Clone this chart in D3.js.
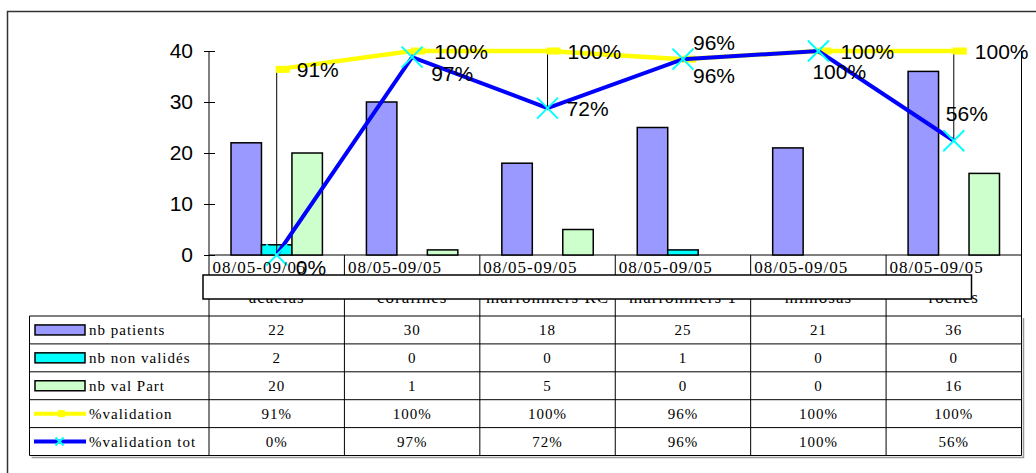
<!DOCTYPE html>
<html><head><meta charset="utf-8">
<script src="https://cdn.jsdelivr.net/npm/d3@7"></script>
<style>
html,body{margin:0;padding:0;background:#fff;}
svg{display:block;}
</style>
</head><body>
<svg id="chart" width="1036" height="473"></svg>
<script>
// ---- data ----
const categories = ["acacias","coralines","marronniers RC","marronniers 1","mimosas","roches"];
const periods = ["08/05-09/05","08/05-09/05","08/05-09/05","08/05-09/05","08/05-09/05","08/05-09/05"];
const nbPatients = [22,30,18,25,21,36];
const nbNonValides = [2,0,0,1,0,0];
const nbValPart = [20,1,5,0,0,16];
const pctValidation = [0.91,1.00,1.00,0.96,1.00,1.00];
const pctValidationTot = [0.00,0.97,0.72,0.96,1.00,0.56];
const yTicks = [0,10,20,30,40];
const barSeriesNames = ["nb patients","nb non validés","nb val Part"];
const lineSeriesNames = ["%validation","%validation tot"];

// ---- styles / layout ----
const barColors = ["#9999FF","#00FFFF","#CCFFCC"];
const yellow = "#FFFF00", blue = "#0000FF", cyan = "#00FFFF";
const plotL = 209, plotR = 1021.5, plotT = 51, plotB = 255;
const tableT = 316, rowH = 27.9, tableL = 29.5;
// label offsets (dx, dy) for data labels
const yLabelOff = [[20,0],[22,0],[20,0],[10,-17],[22,0],[21,0]];
const bLabelOff = [[19,12],[19,16],[19,0],[10,16],[-6,20],[-8,-27]];

const svg = d3.select("#chart");
const pctFmt = d3.format(".0%");

// outer frame
svg.append("path").attr("d",`M7.5,473 L7.5,11.5 L1036,11.5`)
  .attr("fill","none").attr("stroke","#333").attr("stroke-width",1.5);

const x = d3.scaleBand().domain(categories).range([plotL, plotR]);
const groupW = x.bandwidth()*0.675;
const xs = d3.scaleBand().domain(barSeriesNames).range([0, groupW]);
const y = d3.scaleLinear().domain([0,40]).range([plotB, plotT]);
const yp = d3.scaleLinear().domain([0,1]).range([plotB, plotT]);
const cx = c => x(c) + x.bandwidth()/2;

// y axis
const yAxis = svg.append("g").attr("transform",`translate(${plotL},0)`)
  .call(d3.axisLeft(y).tickValues(yTicks).tickSize(5).tickPadding(11));
yAxis.select(".domain").remove();
yAxis.selectAll(".tick line").attr("x1",-5).attr("x2",6).attr("stroke","#000");
yAxis.selectAll(".tick text").attr("font-family","Liberation Sans, Arial, sans-serif")
  .attr("font-size",21).attr("fill","#000");
// y axis line continues through table
svg.append("line").attr("x1",plotL).attr("x2",plotL).attr("y1",plotT).attr("y2",455.5)
  .attr("stroke","#000").attr("stroke-width",1);
// secondary axis line (right)
svg.append("line").attr("x1",plotR).attr("x2",plotR).attr("y1",yp(1)).attr("y2",455.5)
  .attr("stroke","#000").attr("stroke-width",1);
// x axis line
svg.append("line").attr("x1",plotL).attr("x2",plotR).attr("y1",plotB).attr("y2",plotB)
  .attr("stroke","#000").attr("stroke-width",1);
// category boundaries
svg.selectAll("line.cb").data(categories.slice(1)).enter().append("line")
  .attr("x1",d=>x(d)).attr("x2",d=>x(d)).attr("y1",plotB).attr("y2",455.5)
  .attr("stroke","#000").attr("stroke-width",1);

// bars
const barData = [nbPatients, nbNonValides, nbValPart];
barData.forEach((vals,si)=>{
  svg.append("g").selectAll("rect").data(categories).enter().append("rect")
    .attr("x",(c)=>x(c)+(x.bandwidth()-groupW)/2+xs(barSeriesNames[si]))
    .attr("width",xs.bandwidth())
    .attr("y",(c,i)=>y(vals[i]))
    .attr("height",(c,i)=>plotB-y(vals[i]))
    .attr("fill",barColors[si]).attr("stroke","#000").attr("stroke-width",1.5);
});

// high-low lines
svg.append("g").selectAll("line").data(categories).enter().append("line")
  .attr("x1",c=>cx(c)).attr("x2",c=>cx(c))
  .attr("y1",(c,i)=>yp(Math.max(pctValidation[i],pctValidationTot[i])))
  .attr("y2",(c,i)=>yp(Math.min(pctValidation[i],pctValidationTot[i])))
  .attr("stroke","#000").attr("stroke-width",1);

// yellow line
const lineGen = vals => d3.line().x((c)=>cx(c)).y((c,i)=>yp(vals[i]))(categories);
svg.append("path").attr("d",lineGen(pctValidation)).attr("fill","none")
  .attr("stroke",yellow).attr("stroke-width",4.5);
svg.append("g").selectAll("rect").data(categories).enter().append("rect")
  .attr("x",c=>cx(c)-1).attr("width",14)
  .attr("y",(c,i)=>yp(pctValidation[i])-3.5).attr("height",7).attr("fill",yellow);

// blue line
svg.append("path").attr("d",lineGen(pctValidationTot)).attr("fill","none")
  .attr("stroke",blue).attr("stroke-width",4);
const xMark = (g,px,py,s)=>{
  g.append("path").attr("d",`M${px-s},${py-s}L${px+s},${py+s}M${px-s},${py+s}L${px+s},${py-s}`)
   .attr("stroke",cyan).attr("stroke-width",2).attr("fill","none");
};
const mk = svg.append("g");
categories.forEach((c,i)=>xMark(mk,cx(c),yp(pctValidationTot[i]),10.5));

// category labels
const lbl = svg.append("g").attr("font-family","Liberation Serif, Times New Roman, serif")
  .attr("font-size",17).attr("fill","#000");
lbl.selectAll("text.p").data(categories).enter().append("text")
  .attr("x",c=>x(c)+3.5).attr("y",273).attr("letter-spacing",1)
  .text((c,i)=>periods[i]);
lbl.selectAll("text.n").data(categories).enter().append("text")
  .attr("x",c=>cx(c)).attr("y",303).attr("text-anchor","middle").attr("letter-spacing",1)
  .text(c=>c);

// data labels
const dl = svg.append("g").attr("font-family","Liberation Sans, Arial, sans-serif")
  .attr("font-size",21).attr("fill","#000");
categories.forEach((c,i)=>{
  dl.append("text").attr("x",cx(c)+yLabelOff[i][0]).attr("y",yp(pctValidation[i])+yLabelOff[i][1])
    .attr("dominant-baseline","central").text(pctFmt(pctValidation[i]));
  dl.append("text").attr("x",cx(c)+bLabelOff[i][0]).attr("y",yp(pctValidationTot[i])+bLabelOff[i][1])
    .attr("dominant-baseline","central").text(pctFmt(pctValidationTot[i]));
});

// white text box overlay
svg.append("rect").attr("x",203).attr("y",275).attr("width",768.5).attr("height",24)
  .attr("fill","#fff").attr("stroke","#000").attr("stroke-width",1.5);

// ---- data table ----
const tableB = tableT + rowH*5;
const tg = svg.append("g");
// shadow
tg.append("path").attr("d",`M${tableL+2},${tableB+2}L${plotR+2},${tableB+2}L${plotR+2},${tableT+2}`)
  .attr("fill","none").attr("stroke","#999").attr("stroke-width",1.5);
tg.append("line").attr("x1",tableL).attr("x2",tableL).attr("y1",tableT).attr("y2",tableB)
  .attr("stroke","#000").attr("stroke-width",1);
d3.range(6).forEach(r=>{
  tg.append("line").attr("x1",tableL).attr("x2",plotR).attr("y1",tableT+r*rowH).attr("y2",tableT+r*rowH)
    .attr("stroke","#000").attr("stroke-width",1);
});
const rowNames = barSeriesNames.concat(lineSeriesNames);
const rowVals = [nbPatients.map(String), nbNonValides.map(String), nbValPart.map(String),
  pctValidation.map(pctFmt), pctValidationTot.map(pctFmt)];
const tf = "Liberation Serif, Times New Roman, serif";
rowNames.forEach((name,r)=>{
  const cy = tableT + r*rowH + rowH/2;
  if(r<3){
    tg.append("rect").attr("x",35).attr("y",cy-5).attr("width",50).attr("height",10)
      .attr("fill",barColors[r]).attr("stroke","#000").attr("stroke-width",1.5);
  } else if(r===3){
    tg.append("line").attr("x1",34).attr("x2",86).attr("y1",cy).attr("y2",cy)
      .attr("stroke",yellow).attr("stroke-width",4);
    tg.append("rect").attr("x",58).attr("y",cy-3.5).attr("width",7).attr("height",7).attr("fill",yellow);
  } else {
    tg.append("line").attr("x1",34).attr("x2",86).attr("y1",cy).attr("y2",cy)
      .attr("stroke",blue).attr("stroke-width",4);
    xMark(tg,59.5,cy,4);
  }
  tg.append("text").attr("x",89).attr("y",cy).attr("dominant-baseline","central")
    .attr("font-family",tf).attr("font-size",15).attr("letter-spacing",1).text(name);
  categories.forEach((c,i)=>{
    tg.append("text").attr("x",cx(c)).attr("y",cy).attr("dominant-baseline","central")
      .attr("text-anchor","middle").attr("font-family",tf).attr("font-size",15)
      .attr("letter-spacing",1).text(rowVals[r][i]);
  });
});
</script>
</body></html>
